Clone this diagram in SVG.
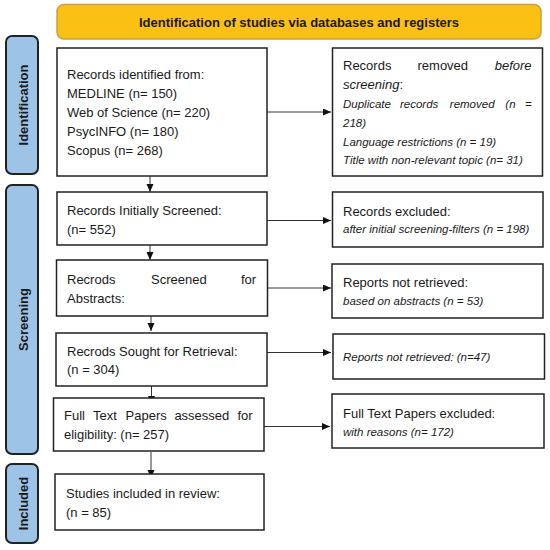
<svg xmlns="http://www.w3.org/2000/svg" width="550" height="550" viewBox="0 0 550 550">
<style>
.box{fill:#fff;stroke:#222;stroke-width:1.5}
.side{fill:#9dc3e6;stroke:#222;stroke-width:2}
.t{font-family:"Liberation Sans",Arial,sans-serif;font-size:13px;fill:#1a1a1a}
.i{font-family:"Liberation Sans",Arial,sans-serif;font-size:11.5px;font-style:italic;fill:#1a1a1a}
.b{font-family:"Liberation Sans",Arial,sans-serif;font-size:13px;font-weight:bold;fill:#1a1a1a}
.c{stroke:#333;stroke-width:1;fill:none;marker-end:url(#ah)}
</style>
<defs>
<marker id="ah" markerUnits="userSpaceOnUse" markerWidth="9" markerHeight="8" refX="8" refY="3.5" orient="auto">
<path d="M0,0 L8,3.5 L0,7 z" fill="#111"/>
</marker>
</defs>
<rect width="550" height="550" fill="#fff"/>

<g id="banner">
<rect x="57" y="4.5" width="484" height="34.5" rx="7" fill="#fac014" stroke="#c9a043" stroke-width="1.5"/>
<text class="b" x="299" y="27" text-anchor="middle">Identification of studies via databases and registers</text>
</g>

<g id="side-identification">
<rect class="side" x="6" y="36" width="32" height="138" rx="6"/>
<text class="b" transform="translate(27.5,105) rotate(-90)" text-anchor="middle">Identification</text>
</g>
<g id="side-screening">
<rect class="side" x="6" y="185" width="32" height="269" rx="6"/>
<text class="b" transform="translate(27.5,319.5) rotate(-90)" text-anchor="middle">Screening</text>
</g>
<g id="side-included">
<rect class="side" x="6" y="464" width="32" height="79" rx="6"/>
<text class="b" transform="translate(27.5,503.5) rotate(-90)" text-anchor="middle">Included</text>
</g>

<g id="connectors">
<line class="c" x1="150" y1="167" x2="150" y2="192"/>
<line class="c" x1="267" y1="112" x2="331" y2="112"/>
<line class="c" x1="150" y1="238" x2="150" y2="260"/>
<line class="c" x1="267" y1="220.5" x2="331" y2="220.5"/>
<line class="c" x1="151" y1="308" x2="151" y2="331"/>
<line class="c" x1="267" y1="288" x2="331" y2="288"/>
<line class="c" x1="151.5" y1="375" x2="151.5" y2="404"/>
<line class="c" x1="267" y1="352.5" x2="331" y2="352.5"/>
<line class="c" x1="151" y1="452" x2="151" y2="478"/>
<line class="c" x1="264" y1="426.5" x2="330" y2="426.5"/>
</g>

<g id="records-identified">
<rect class="box" x="57" y="48" width="210" height="128"/>
<text class="t" x="67" y="78.5">Records identified from:</text>
<text class="t" x="67" y="97.5">MEDLINE (n= 150)</text>
<text class="t" x="67" y="116.5">Web of Science (n= 220)</text>
<text class="t" x="67" y="135.5">PsycINFO (n= 180)</text>
<text class="t" x="67" y="154.5">Scopus (n= 268)</text>
</g>

<g id="records-removed">
<rect class="box" x="332.5" y="48" width="210" height="128"/>
<text class="t" y="69.5"><tspan x="343">Records</tspan><tspan x="417.5">removed</tspan><tspan x="494.7" font-style="italic">before</tspan></text>
<text class="t" x="343" y="88.5"><tspan font-style="italic">screening</tspan>:</text>
<text class="i" y="107.5"><tspan x="343">Duplicate</tspan><tspan x="400">records</tspan><tspan x="449.8">removed</tspan><tspan x="505.3">(n</tspan><tspan x="525">=</tspan></text>
<text class="i" x="343" y="126.5">218)</text>
<text class="i" x="343" y="145.5">Language restrictions (n = 19)</text>
<text class="i" x="343" y="164">Title with non-relevant topic (n= 31)</text>
</g>

<g id="records-screened">
<rect class="box" x="57" y="192" width="210" height="53"/>
<text class="t" x="67" y="214.5">Records Initially Screened:</text>
<text class="t" x="67" y="233.5">(n= 552)</text>
</g>

<g id="records-excluded">
<rect class="box" x="332.5" y="192" width="210.5" height="55"/>
<text class="t" x="343" y="215.5">Records excluded:</text>
<text class="i" x="343" y="233">after initial screening-filters (n = 198)</text>
</g>

<g id="screened-abstracts">
<rect class="box" x="56.5" y="260" width="211" height="56"/>
<text class="t" y="283.5"><tspan x="67">Recrods</tspan><tspan x="151">Screened</tspan><tspan x="241">for</tspan></text>
<text class="t" x="67" y="302.5">Abstracts:</text>
</g>

<g id="reports-not-retrieved-abstracts">
<rect class="box" x="332" y="264" width="211" height="54"/>
<text class="t" x="343" y="286.5">Reports not retrieved:</text>
<text class="i" x="343" y="305">based on abstracts (n = 53)</text>
</g>

<g id="sought-retrieval">
<rect class="box" x="56" y="333" width="211" height="53"/>
<text class="t" x="67" y="355.5">Recrods Sought for Retrieval:</text>
<text class="t" x="67" y="373.5">(n = 304)</text>
</g>

<g id="reports-not-retrieved">
<rect class="box" x="333" y="334" width="211.5" height="45"/>
<text class="i" x="343" y="361">Reports not retrieved: (n=47)</text>
</g>

<g id="full-text-assessed">
<rect class="box" x="53.5" y="398" width="210.5" height="53"/>
<text class="t" y="420"><tspan x="64">Full</tspan><tspan x="93">Text</tspan><tspan x="125.6">Papers</tspan><tspan x="174.4">assessed</tspan><tspan x="237.5">for</tspan></text>
<text class="t" x="64" y="439">eligibility: (n= 257)</text>
</g>

<g id="full-text-excluded">
<rect class="box" x="332" y="394" width="212" height="54"/>
<text class="t" x="343" y="417.5">Full Text Papers excluded:</text>
<text class="i" x="343" y="436">with reasons (n= 172)</text>
</g>

<g id="studies-included">
<rect class="box" x="55" y="474" width="209" height="56"/>
<text class="t" x="66" y="497.5">Studies included in review:</text>
<text class="t" x="66" y="517">(n = 85)</text>
</g>
</svg>
